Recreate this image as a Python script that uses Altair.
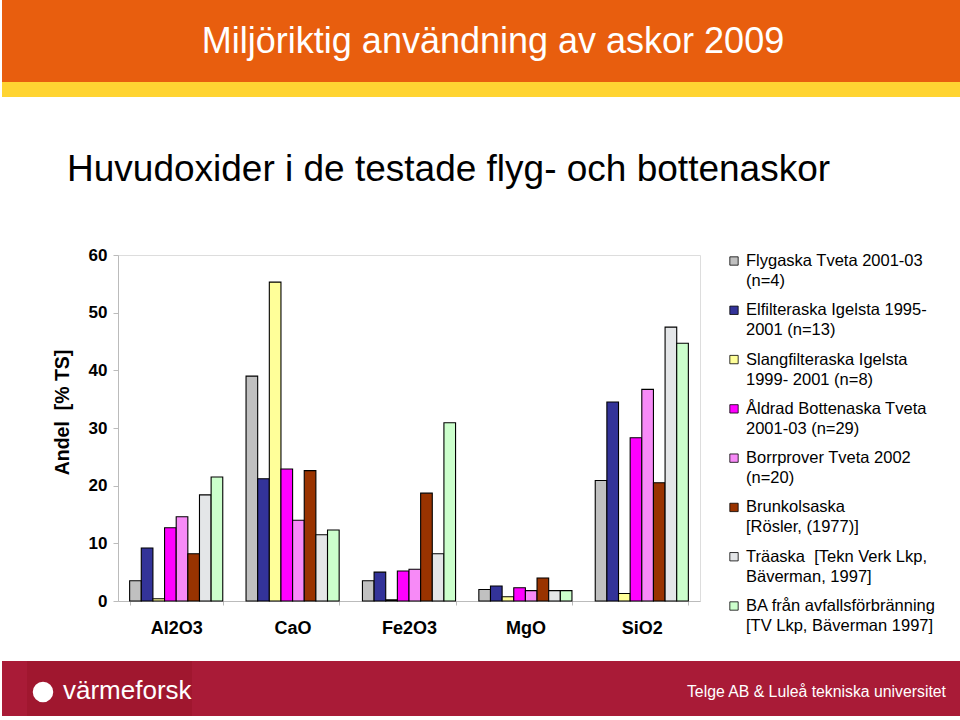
import altair as alt
import pandas as pd

categories = ["Al2O3", "CaO", "Fe2O3", "MgO", "SiO2"]
series = [
    "Flygaska Tveta 2001-03|(n=4)",
    "Elfilteraska Igelsta 1995-|2001 (n=13)",
    "Slangfilteraska Igelsta|1999- 2001 (n=8)",
    "Åldrad Bottenaska Tveta|2001-03 (n=29)",
    "Borrprover Tveta 2002|(n=20)",
    "Brunkolsaska|[Rösler, (1977)]",
    "Träaska\u00a0 [Tekn Verk Lkp,|Bäverman, 1997]",
    "BA från avfallsförbränning|[TV Lkp, Bäverman 1997]",
]
colors = ["#C0C0C0", "#333399", "#FFFF99", "#FF00FF", "#F78AF7", "#993300", "#E4E6E8", "#CCFFCC"]

flygaska = [3.5, 39.0, 3.5, 2.0, 20.9]
elfilter = [9.2, 21.2, 5.0, 2.6, 34.5]
slangfilter = [0.4, 55.3, 0.2, 0.75, 1.3]
aldrad = [12.7, 22.9, 5.2, 2.3, 28.3]
borrprover = [14.6, 14.0, 5.5, 1.8, 36.7]
brunkol = [8.2, 22.6, 18.7, 4.0, 20.5]
traaska = [18.4, 11.5, 8.2, 1.8, 47.5]
ba = [21.5, 12.3, 30.9, 1.8, 44.7]
all_values = [flygaska, elfilter, slangfilter, aldrad, borrprover, brunkol, traaska, ba]

rows = []
for s, vals in zip(series, all_values):
    for c, v in zip(categories, vals):
        rows.append({"oxid": c, "serie": s, "andel": v})
df = pd.DataFrame(rows)
leg = pd.DataFrame({"serie": series})
one = pd.DataFrame({"k": [0]})

FONT = "Liberation Sans"
color_scale = alt.Scale(domain=series, range=colors)

bars = alt.Chart(df).mark_bar(stroke="black", strokeWidth=1.1).encode(
    x=alt.X("oxid:N", sort=categories, title=None,
            scale=alt.Scale(paddingInner=0.2, paddingOuter=0.1),
            axis=alt.Axis(labelAngle=0, labelFont=FONT, labelFontSize=18, labelFontWeight="bold",
                          labelColor="black", labelPadding=14, tickBand="extent", tickSize=4,
                          tickColor="#BBBBBB", domainColor="#BBBBBB", grid=False)),
    xOffset=alt.XOffset("serie:N", sort=series, scale=alt.Scale(paddingInner=0, paddingOuter=0)),
    y=alt.Y("andel:Q", scale=alt.Scale(domain=[0, 60], nice=False),
            axis=alt.Axis(values=[0, 10, 20, 30, 40, 50, 60], title="Andel\u00a0 [% TS]",
                          titleFont=FONT, titleFontSize=19.5, titleFontWeight="bold", titleColor="black",
                          titleX=-56, titleY=157, titleAngle=270, titleAlign="center",
                          titleBaseline="middle",
                          labelFont=FONT, labelFontSize=17, labelFontWeight="bold",
                          labelColor="black", labelPadding=6, tickSize=5, tickColor="#BBBBBB",
                          domainColor="#BBBBBB", grid=False)),
    color=alt.Color("serie:N", scale=color_scale, legend=None),
)

leg_y = alt.Y("serie:N", sort=series, axis=None,
              scale=alt.Scale(type="point", domain=series, range=[6, 351], padding=0))

leg_sq = alt.Chart(leg).mark_square(size=70, stroke="black", strokeWidth=0.8, opacity=1).encode(
    x=alt.value(616), y=leg_y,
    color=alt.Color("serie:N", scale=color_scale, legend=None),
)
leg_txt = alt.Chart(leg).transform_calculate(lines="split(datum.serie, '|')").mark_text(
    align="left", baseline="middle", font=FONT, fontSize=16.5, lineHeight=20, dy=0, color="black"
).encode(x=alt.value(628), y=leg_y, text="lines:N")

def band(x1, x2, y1, y2, col):
    return alt.Chart(one).mark_rect(color=col).encode(
        x=alt.value(x1), x2=alt.value(x2), y=alt.value(y1), y2=alt.value(y2))

header = band(-116, 842, -255, -173, "#E85E0E")
header_y = band(-116, 842, -173, -158, "#FFD432")
footer = band(-116, 842, 406, 461, "#A91B37")
logo_box = band(-91, 74, 406, 461, "#A0172F")
title1 = alt.Chart(one).mark_text(text="Miljöriktig användning av askor 2009", font=FONT, fontSize=36,
                                   color="white", align="center", baseline="middle").encode(
    x=alt.value(375), y=alt.value(-213))
title2 = alt.Chart(one).mark_text(text="Huvudoxider i de testade flyg- och bottenaskor", font=FONT,
                                   fontSize=37, color="black", align="left", baseline="middle").encode(
    x=alt.value(-51), y=alt.value(-85))
logo_circle = alt.Chart(one).mark_point(shape="circle", filled=True, color="white", opacity=1,
                                        size=420).encode(x=alt.value(-75), y=alt.value(437))
logo_txt = alt.Chart(one).mark_text(text="värmeforsk", font=FONT, fontSize=26, color="white",
                                     align="left", baseline="middle").encode(
    x=alt.value(-55), y=alt.value(436))
footer_txt = alt.Chart(one).mark_text(text="Telge AB & Luleå tekniska universitet", font=FONT,
                                       fontSize=15.8, color="white", align="right",
                                       baseline="middle").encode(x=alt.value(828), y=alt.value(437))

chart = alt.layer(
    header, header_y, footer, logo_box, title1, title2, logo_circle, logo_txt, footer_txt,
    bars, leg_sq, leg_txt
).resolve_scale(y="independent").properties(
    width=582, height=346,
    padding={"left": 118, "top": 255, "right": 260, "bottom": 119},
    autosize=alt.AutoSizeParams(type="none"),
).configure_view(stroke=None).configure(background="white")

chart.save("out.html", embed_options={"renderer": "svg", "actions": False})
